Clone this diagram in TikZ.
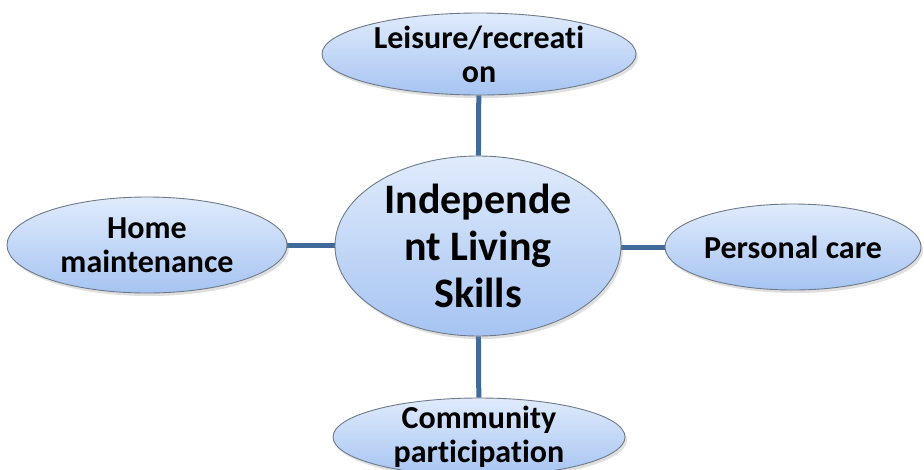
\documentclass[tikz,border=0pt]{standalone}
\usepackage{fontspec}
\setmainfont{Carlito}[Ligatures=NoCommon]
\usetikzlibrary{shapes.geometric,shadows,backgrounds}
\definecolor{edgeblue}{HTML}{3F6A9A}
\definecolor{fillTop}{HTML}{E0EBFC}
\definecolor{fillBot}{HTML}{A6C4F2}
\definecolor{rimgray}{HTML}{6E7A88}
\tikzset{
  bubble/.style={ellipse, inner sep=0pt, draw=rimgray, line width=0.9pt,
    top color=fillTop, bottom color=fillBot,
    drop shadow={opacity=0.25, shadow xshift=2pt, shadow yshift=-3pt}},
  smalltext/.style={font=\bfseries\fontsize{32}{34}\selectfont, align=center, text=black, inner sep=0pt},
  bigtext/.style={font=\bfseries\fontsize{42}{47}\selectfont, align=center, text=black, inner sep=0pt},
  conn/.style={draw=edgeblue, line width=5pt}
}
\begin{document}
\begin{tikzpicture}[x=1pt,y=-1pt]
\useasboundingbox (0,0) rectangle (924,469);
\node[bubble, minimum width=286pt, minimum height=180pt,
  label={[name=ctext, bigtext]center:{Independe\\nt Living\\Skills}}] (center) at (478,246) {};
\node[bubble, minimum width=314pt, minimum height=82pt,
  label={[name=ttext, smalltext]center:{Leisure/recreati\\on}}] (top) at (479,54) {};
\node[bubble, minimum width=280pt, minimum height=96pt,
  label={[name=ltext, smalltext]center:{Home\\maintenance}}] (left) at (147,245) {};
\node[bubble, minimum width=256pt, minimum height=86pt,
  label={[name=rtext, smalltext]center:{Personal care}}] (right) at (793,247) {};
\node[bubble, minimum width=292pt, minimum height=78pt,
  label={[name=btext, smalltext]center:{Community\\participation}}] (bottom) at (479,437) {};
\begin{scope}[on background layer]
\draw[conn] (top) -- (center);
\draw[conn] (left) -- (center.center |- left);
\draw[conn] (center.center |- right) -- (right);
\draw[conn] (center) -- (bottom);
\end{scope}
\end{tikzpicture}
\end{document}
